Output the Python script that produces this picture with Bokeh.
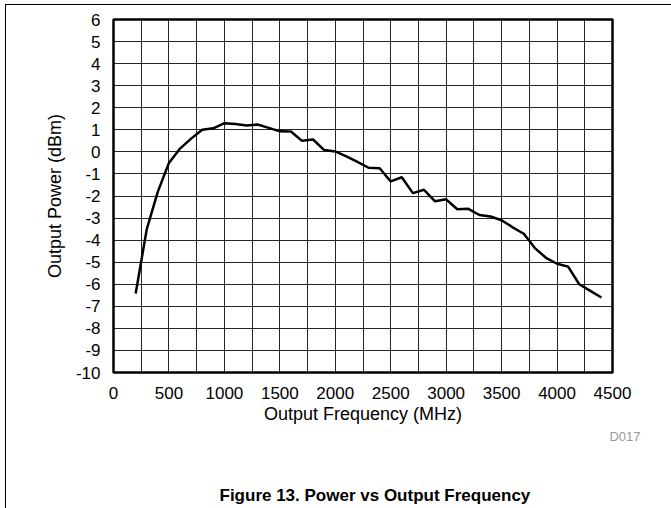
from bokeh.plotting import figure
from bokeh.models import Range1d, FixedTicker, SingleIntervalTicker, Title
from bokeh.embed import file_html
from bokeh.resources import INLINE

# Data
freq_mhz = [200, 300, 400, 500, 600, 700, 800, 900, 1000, 1100, 1200, 1300, 1400,
            1500, 1600, 1700, 1800, 1900, 2000, 2100, 2200, 2300, 2400, 2500, 2600,
            2700, 2800, 2900, 3000, 3100, 3200, 3300, 3400, 3500, 3600, 3700, 3800,
            3900, 4000, 4100, 4200, 4300, 4400]
power_dbm = [-6.42, -3.5, -1.8, -0.5, 0.15, 0.6, 1.0, 1.07, 1.3, 1.26, 1.2, 1.24, 1.09,
             0.93, 0.92, 0.5, 0.56, 0.08, 0.02, -0.2, -0.45, -0.72, -0.74, -1.34, -1.15,
             -1.87, -1.72, -2.24, -2.15, -2.6, -2.58, -2.86, -2.93, -3.1, -3.42, -3.71, -4.36,
             -4.8, -5.07, -5.2, -6.0, -6.3, -6.6]

x_ticks = [0, 500, 1000, 1500, 2000, 2500, 3000, 3500, 4000, 4500]
x_tick_labels = ["0", "500", "1000", "1500", "2000", "2500", "3000", "3500", "4000", "4500"]
y_ticks = [-10, -9, -8, -7, -6, -5, -4, -3, -2, -1, 0, 1, 2, 3, 4, 5, 6]
y_tick_labels = ["-10", "-9", "-8", "-7", "-6", "-5", "-4", "-3", "-2", "-1",
                 "0", "1", "2", "3", "4", "5", "6"]

x_label = "Output Frequency (MHz)"
y_label = "Output Power (dBm)"
fig_title = "Figure 13. Power vs Output Frequency"
fig_code = "D017"

FONT = "Liberation Sans"

p = figure(frame_width=499, frame_height=353, output_backend="svg", toolbar_location=None,
           x_range=Range1d(0, 4500), y_range=Range1d(-10, 6),
           min_border_left=107, min_border_top=14, min_border_right=60,
           min_border_bottom=0,
           styles={"margin-left": "5px", "margin-top": "4px",
                   "border-left": "1px solid black", "border-top": "1px solid black"})

p.background_fill_color = "white"
p.border_fill_color = "white"
p.outline_line_color = "black"
p.outline_line_width = 2.5

# grids
p.xgrid.ticker = SingleIntervalTicker(interval=250)
p.ygrid.ticker = SingleIntervalTicker(interval=1)
for g in (p.xgrid, p.ygrid):
    g.grid_line_color = "black"
    g.grid_line_alpha = 0.85
    g.grid_line_width = 1

# axes
p.xaxis.ticker = FixedTicker(ticks=x_ticks)
p.yaxis.ticker = FixedTicker(ticks=y_ticks)
p.xaxis.major_label_overrides = dict(zip(x_ticks, x_tick_labels))
p.yaxis.major_label_overrides = dict(zip(y_ticks, y_tick_labels))
for ax in (p.xaxis, p.yaxis):
    ax.axis_line_color = None
    ax.major_tick_line_color = None
    ax.minor_tick_line_color = None
    ax.major_label_text_font = FONT
    ax.major_label_text_font_size = "17px"
    ax.major_label_text_color = "black"
    ax.axis_label_text_font = FONT
    ax.axis_label_text_font_size = "18px"
    ax.axis_label_text_font_style = "normal"
    ax.axis_label_text_color = "black"
p.xaxis.major_label_standoff = 8
p.yaxis.major_label_standoff = 7
p.xaxis.axis_label = x_label
p.yaxis.axis_label = y_label
p.xaxis.axis_label_standoff = 2
p.yaxis.axis_label_standoff = 8

# data line
p.line(freq_mhz, power_dbm, line_color="black", line_width=2.5)

# figure code and caption (panels below the x axis)
p.add_layout(Title(text=fig_code, align="right", offset=-28, standoff=0,
                   text_font=FONT, text_font_size="13px", text_font_style="normal",
                   text_color="#999999"), "below")
p.add_layout(Title(text=fig_title, align="left", offset=106, standoff=80,
                   text_font=FONT, text_font_size="17px", text_font_style="bold",
                   text_color="black"), "below")

open("out.html", "w").write(file_html(p, INLINE))
